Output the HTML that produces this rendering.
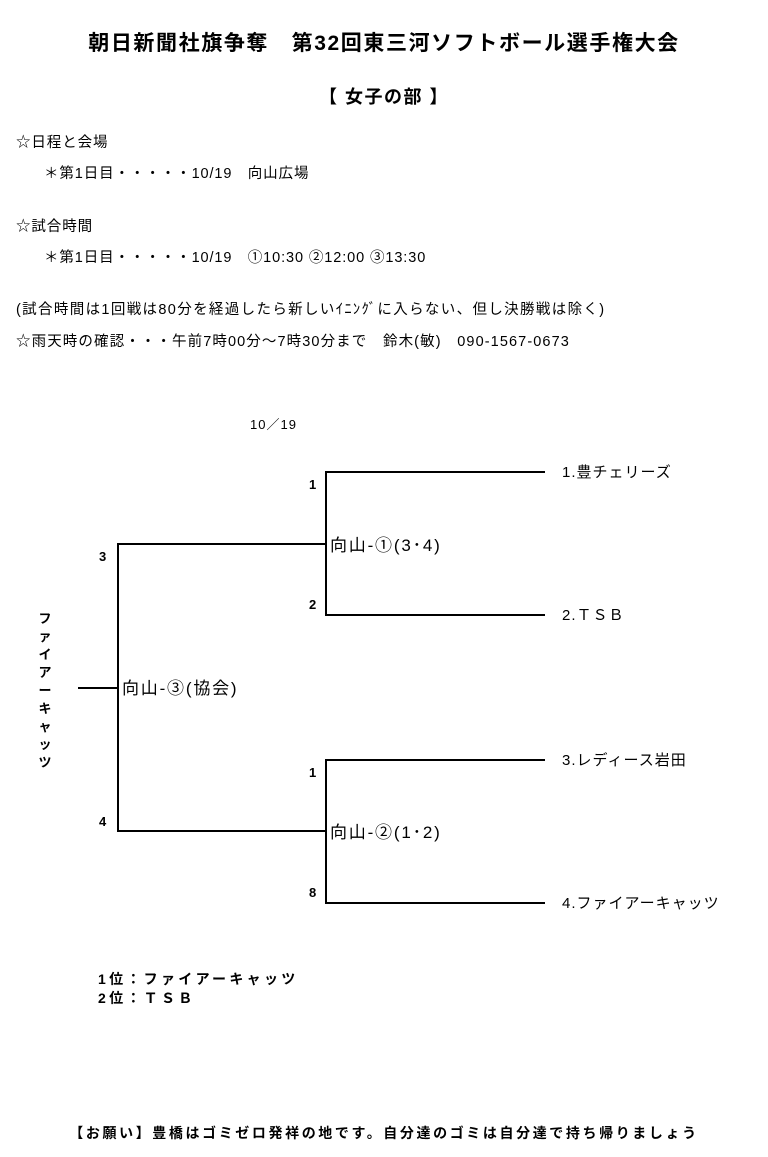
<!DOCTYPE html>
<html><head><meta charset="utf-8"><style>
body{margin:0;width:768px;height:1157px;background:#fff;position:relative;font-family:"Liberation Sans","Noto Sans CJK JP",sans-serif;color:#000;overflow:hidden}
.t{position:absolute;white-space:nowrap;line-height:1}
.l{position:absolute;background:#000}
.b{font-weight:bold}
.s{font-size:14.5px;letter-spacing:0.9px}
</style></head><body>
<div class="t b" style="left:0;width:768px;text-align:center;top:33px;font-size:21px;letter-spacing:1.6px">朝日新聞社旗争奪　第32回東三河ソフトボール選手権大会</div>
<div class="t b" style="left:0;width:768px;text-align:center;top:88px;font-size:18px;letter-spacing:1.5px">【 女子の部 】</div>
<div class="t s" style="left:16px;top:136px">☆日程と会場</div>
<div class="t s" style="left:44px;top:167px">＊第1日目・・・・・10/19　向山広場</div>
<div class="t s" style="left:16px;top:220px">☆試合時間</div>
<div class="t s" style="left:44px;top:251px">＊第1日目・・・・・10/19　①10:30 ②12:00 ③13:30</div>
<div class="t s" style="left:16px;top:303px;letter-spacing:1.35px">(試合時間は1回戦は80分を経過したら新しいｲﾆﾝｸﾞに入らない、但し決勝戦は除く)</div>
<div class="t s" style="left:16px;top:335px;letter-spacing:1.1px">☆雨天時の確認・・・午前7時00分～7時30分まで　鈴木(敏)　090-1567-0673</div>
<div class="t" style="left:250px;top:418px;font-size:13px;letter-spacing:1px">10／19</div>

<div class="l" style="left:325px;top:471px;width:220px;height:2px"></div>
<div class="l" style="left:325px;top:614px;width:220px;height:2px"></div>
<div class="l" style="left:325px;top:471px;width:2px;height:145px"></div>
<div class="l" style="left:117px;top:543px;width:210px;height:2px"></div>
<div class="l" style="left:117px;top:830px;width:210px;height:2px"></div>
<div class="l" style="left:117px;top:543px;width:2px;height:289px"></div>
<div class="l" style="left:78px;top:687px;width:41px;height:2px"></div>
<div class="l" style="left:325px;top:759px;width:220px;height:2px"></div>
<div class="l" style="left:325px;top:902px;width:220px;height:2px"></div>
<div class="l" style="left:325px;top:759px;width:2px;height:145px"></div>

<div class="t b" style="left:309px;top:478px;font-size:13px">1</div>
<div class="t b" style="left:309px;top:598px;font-size:13px">2</div>
<div class="t b" style="left:99px;top:550px;font-size:13px">3</div>
<div class="t b" style="left:99px;top:815px;font-size:13px">4</div>
<div class="t b" style="left:309px;top:766px;font-size:13px">1</div>
<div class="t b" style="left:309px;top:886px;font-size:13px">8</div>

<div class="t" style="left:330px;top:537px;font-size:17px;letter-spacing:1.8px">向山-①(3･4)</div>
<div class="t" style="left:122px;top:680px;font-size:17px;letter-spacing:1.8px">向山-③(協会)</div>
<div class="t" style="left:330px;top:824px;font-size:17px;letter-spacing:1.8px">向山-②(1･2)</div>

<div class="t" style="left:562px;top:465px;font-size:15px;letter-spacing:1px">1.豊チェリーズ</div>
<div class="t" style="left:562px;top:608px;font-size:15px;letter-spacing:1px">2.ＴＳＢ</div>
<div class="t" style="left:562px;top:753px;font-size:15px;letter-spacing:1px">3.レディース岩田</div>
<div class="t" style="left:562px;top:896px;font-size:15px;letter-spacing:1px">4.ファイアーキャッツ</div>

<div class="t b" style="left:37px;top:610px;font-size:13px;line-height:18px;white-space:normal;width:16px;text-align:center">ファイアーキャッツ</div>

<div class="t b" style="left:98px;top:972px;font-size:14px;letter-spacing:3.3px">1位：ファイアーキャッツ</div>
<div class="t b" style="left:98px;top:991px;font-size:14px;letter-spacing:3.3px">2位：ＴＳＢ</div>
<div class="t b" style="left:0;width:768px;text-align:center;top:1126px;font-size:14px;letter-spacing:2.6px">【お願い】豊橋はゴミゼロ発祥の地です。自分達のゴミは自分達で持ち帰りましょう</div>
</body></html>
